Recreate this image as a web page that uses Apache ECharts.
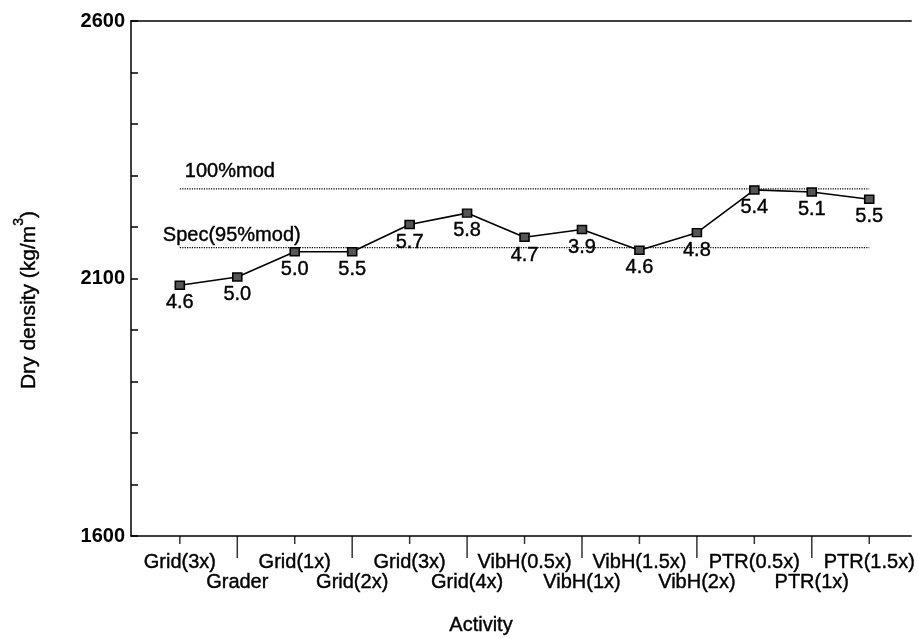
<!DOCTYPE html>
<html>
<head>
<meta charset="utf-8">
<title>Dry density by activity</title>
<script src="https://cdn.jsdelivr.net/npm/echarts@6/dist/echarts.min.js"></script>
<style>
  html, body { margin: 0; padding: 0; background: #fff; }
  #chart { width: 918px; height: 638px; }
</style>
</head>
<body>
<div id="chart"></div>
<script>
// Compaction activities, in the order they were carried out
const categories = ['Grid(3x)', 'Grader', 'Grid(1x)', 'Grid(2x)', 'Grid(3x)', 'Grid(4x)',
  'VibH(0.5x)', 'VibH(1x)', 'VibH(1.5x)', 'VibH(2x)', 'PTR(0.5x)', 'PTR(1x)', 'PTR(1.5x)'];
// Measured dry density after each activity (kg/m3)
const dryDensity = [2087, 2103, 2152, 2152, 2205, 2227, 2180, 2195, 2155, 2189, 2272, 2268, 2254];
// Moisture content written beside each measurement (%)
const moisture = ['4.6', '5.0', '5.0', '5.5', '5.7', '5.8', '4.7', '3.9', '4.6', '4.8', '5.4', '5.1', '5.5'];
// Reference densities
const modDensity = 2274;   // 100% mod AASHTO
const specDensity = 2160;  // specification, 95% mod
const refLabels = ['100%mod', 'Spec(95%mod)'];
// Labelled values on the density axis
const yTickLabels = [1600, 2100, 2600];
const Y_MIN = 1600, Y_MAX = 2600;

const FONT = '"Liberation Sans", Arial, Helvetica, sans-serif';
const INK = { color: '#000', fontFamily: FONT, fontSize: 20, textBorderColor: '#000', textBorderWidth: 0.4 };
const positions = categories.map((c, i) => i + 1);
const oddPos = positions.filter(p => p % 2 === 1);
const evenPos = positions.filter(p => p % 2 === 0);

const chart = echarts.init(document.getElementById('chart'), null, { renderer: 'canvas' });

const xBase = { type: 'value', min: 0.15, max: 13.73, splitLine: { show: false } };
const labelAxis = (values, margin) => Object.assign({}, xBase, {
  position: 'bottom',
  axisLine: { show: false },
  axisTick: { show: false },
  axisLabel: Object.assign({
    show: true, customValues: values, margin: margin,
    showMinLabel: true, showMaxLabel: true, hideOverlap: false,
    backgroundColor: 'transparent',
    formatter: v => categories[Math.round(v) - 1]
  }, INK)
});
// Category ticks hanging below the baseline: short under the first row of names,
// long ones reaching down to the second row. Drawn on their own layer above the axes.
const tickSeries = (values, len) => ({
  type: 'scatter',
  xAxisIndex: 0, yAxisIndex: 0,
  data: values.map(p => [p, Y_MIN]),
  symbol: 'rect', symbolSize: [1.5, len], symbolOffset: [0, len / 2],
  itemStyle: { color: '#000' },
  clip: false, silent: true, zlevel: 1, z: 10
});

chart.setOption({
  animation: false,
  backgroundColor: '#fff',
  grid: { left: 131, right: 3, top: 21, bottom: 102, containLabel: false },
  xAxis: [
    // baseline
    Object.assign({}, xBase, {
      position: 'bottom',
      axisLine: { show: true, lineStyle: { color: '#000', width: 1.5 } },
      axisTick: { show: false },
      axisLabel: { show: false }
    }),
    // two staggered rows of activity names
    labelAxis(oddPos, 16),
    labelAxis(evenPos, 36),
    // top frame line
    Object.assign({}, xBase, {
      position: 'top',
      axisLine: { show: true, lineStyle: { color: '#000', width: 1.5 } },
      axisTick: { show: false },
      axisLabel: { show: false }
    })
  ],
  yAxis: {
    type: 'value', min: Y_MIN, max: Y_MAX, interval: 100,
    splitLine: { show: false },
    axisLine: { show: true, lineStyle: { color: '#000', width: 1.5 } },
    axisTick: { show: true, inside: true, length: 7, lineStyle: { color: '#000', width: 1.5 } },
    axisLabel: {
      margin: 6, color: '#000', fontFamily: FONT, fontSize: 20, fontWeight: 'bold',
      formatter: v => (yTickLabels.indexOf(v) >= 0 ? String(v) : '')
    }
  },
  series: [
    tickSeries(oddPos, 8),
    tickSeries(evenPos, 22),
    {
      type: 'line',
      xAxisIndex: 0, yAxisIndex: 0,
      data: [[1, modDensity], [positions.length, modDensity]],
      symbol: 'rect', symbolSize: 0, showSymbol: true,
      lineStyle: { color: '#000', width: 1.2, type: 'dotted' },
      itemStyle: { color: '#000' },
      label: Object.assign({
        show: true, position: 'top', align: 'left', offset: [5, -2],
        formatter: p => (p.dataIndex === 0 ? refLabels[0] : '')
      }, INK),
      z: 1
    },
    {
      type: 'line',
      xAxisIndex: 0, yAxisIndex: 0,
      data: [[1, specDensity], [positions.length, specDensity]],
      symbol: 'rect', symbolSize: 0, showSymbol: true,
      lineStyle: { color: '#000', width: 1.2, type: 'dotted' },
      itemStyle: { color: '#000' },
      label: Object.assign({
        show: true, position: 'top', align: 'left', offset: [-17, 3],
        formatter: p => (p.dataIndex === 0 ? refLabels[1] : '')
      }, INK),
      z: 1
    },
    {
      type: 'line',
      xAxisIndex: 0, yAxisIndex: 0,
      data: dryDensity.map((v, i) => [positions[i], v]),
      symbol: 'rect', symbolSize: [9, 8], showSymbol: true,
      lineStyle: { color: '#000', width: 1.6 },
      itemStyle: { color: '#555', borderColor: '#000', borderWidth: 1.5 },
      label: Object.assign({
        show: true, position: 'bottom', distance: 3,
        formatter: p => moisture[p.dataIndex]
      }, INK),
      z: 3
    }
  ],
  graphic: [
    {
      type: 'text', x: 26, y: 300, rotation: Math.PI / 2,
      style: {
        text: '{a|Dry density (kg/m}{b|3}{a|)}',
        textAlign: 'center', textVerticalAlign: 'middle',
        fill: '#000', font: '21px ' + FONT, stroke: '#000', lineWidth: 0.4,
        rich: {
          a: { fontSize: 21, fontFamily: FONT, fill: '#000', lineHeight: 28, verticalAlign: 'bottom' },
          b: { fontSize: 14, fontFamily: FONT, fill: '#000', lineHeight: 28, verticalAlign: 'top' }
        }
      }
    },
    {
      type: 'text', x: 481, y: 625,
      style: {
        text: 'Activity', textAlign: 'center', textVerticalAlign: 'middle',
        fill: '#000', font: '20px ' + FONT, stroke: '#000', lineWidth: 0.4
      }
    }
  ]
});
</script>
</body>
</html>
